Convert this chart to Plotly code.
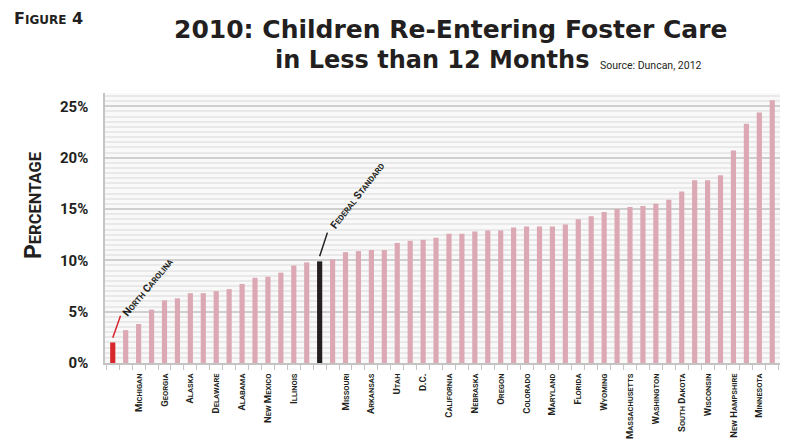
import plotly.graph_objects as go

# Re-entry rate (%) by jurisdiction, sorted ascending; the federal standard is included as its own bar
values = [2.0, 3.2, 3.8, 5.2, 6.1, 6.3, 6.8, 6.8, 7.0, 7.2,
          7.7, 8.3, 8.4, 8.8, 9.5, 9.8, 9.9, 10.1, 10.8, 10.9,
          11.0, 11.0, 11.7, 11.9, 12.0, 12.2, 12.6, 12.6, 12.8, 12.9,
          12.9, 13.2, 13.3, 13.3, 13.3, 13.5, 14.0, 14.3, 14.7, 15.0,
          15.2, 15.3, 15.5, 15.9, 16.7, 17.8, 17.8, 18.3, 20.7, 23.3,
          24.4, 25.6]

# Axis labels (every other bar is labelled)
labels = ["", "", "Michigan", "", "Georgia", "", "Alaska", "", "Delaware", "",
          "Alabama", "", "New Mexico", "", "Illinois", "", "", "", "Missouri", "",
          "Arkansas", "", "Utah", "", "D.C.", "", "California", "", "Nebraska", "",
          "Oregon", "", "Colorado", "", "Maryland", "", "Florida", "", "Wyoming", "",
          "Massachusetts", "", "Washington", "", "South Dakota", "", "Wisconsin", "",
          "New Hampshire", "", "Minnesota", ""]

nc_index = 0
nc_label = "North Carolina"
federal_index = 16
federal_label = "Federal Standard"

y_ticks = [0, 5, 10, 15, 20, 25]

assert len(values) == len(labels)

TITLE_FONT = "DejaVu Sans, Open Sans, Arial"
BODY = "Roboto, Open Sans, Arial"
PINK = "#dba8b3"
RED = "#d9262c"
BLACK = "#231f20"

# plot-area geometry (pixels)
L, R, T, B = 105, 13, 93, 76
W, H = 793, 439
PW, PH = W - L - R, H - T - B


def small_caps(text, big, small):
    out = []
    buf = ""
    for ch in text:
        if ch.islower():
            buf += ch.upper()
        else:
            if buf:
                out.append(f'<span style="font-size:{small}px">{buf}</span>')
                buf = ""
            out.append(ch)
    if buf:
        out.append(f'<span style="font-size:{small}px">{buf}</span>')
    return f'<span style="font-size:{big}px">' + "".join(out) + "</span>"


def px_x(px):
    return (px - L) / PW


def px_y(py):
    return (H - B - py) / PH


x = list(range(len(values)))
colors = []
for i in x:
    if i == nc_index:
        colors.append(RED)
    elif i == federal_index:
        colors.append(BLACK)
    else:
        colors.append(PINK)

fig = go.Figure(go.Bar(x=x, y=values, marker=dict(color=colors, line=dict(width=0)),
                       width=0.4, hoverinfo="x+y"))

tickvals = [i for i, l in enumerate(labels) if l]
ticktext = ["<b>" + small_caps(labels[i], 9.5, 7.5) + "</b>" for i in tickvals]

fig.update_layout(
    width=W, height=H,
    margin=dict(l=L, r=R, t=T, b=B, autoexpand=False),
    paper_bgcolor="white",
    plot_bgcolor="#f9f9f9",
    showlegend=False,
    font=dict(family=BODY, color="#231f20"),
    xaxis=dict(
        range=[-0.6, len(values) - 0.4],
        tickmode="array", tickvals=tickvals, ticktext=ticktext,
        tickangle=-90, ticks="", ticklabelstandoff=5,
        automargin=False,
        showgrid=False, zeroline=False,
        showline=True, linecolor="#c4c4c4", linewidth=1.5,
        tickfont=dict(family=BODY, size=9.5, color="#231f20"),
        minor=dict(ticks="outside", ticklen=5, tick0=0.5, dtick=1,
                   tickcolor="#c4c4c4", tickwidth=1, showgrid=False),
    ),
    yaxis=dict(
        range=[0, 26.3],
        tickmode="array", tickvals=y_ticks,
        ticktext=[f"<b>{v}%</b>" for v in y_ticks],
        tickfont=dict(family=BODY, size=15, color="#231f20"),
        ticks="", ticklabelstandoff=12,
        automargin=False,
        showgrid=True, gridcolor="#cfcfcf", gridwidth=2,
        zeroline=False,
        showline=True, linecolor="#c4c4c4", linewidth=1.5,
        minor=dict(dtick=0.5, showgrid=True, gridcolor="#e9e9e9", gridwidth=1.5),
    ),
)

# Leader lines from the highlighted bars to their labels
nc_val = values[nc_index]
fed_val = values[federal_index]
fig.add_shape(type="line", xref="x", yref="y",
              x0=nc_index, y0=nc_val + 0.45, x1=nc_index + 0.6, y1=nc_val + 2.6,
              line=dict(color=RED, width=1.5))
fig.add_shape(type="line", xref="x", yref="y",
              x0=federal_index, y0=fed_val + 0.5, x1=federal_index + 0.6, y1=fed_val + 2.8,
              line=dict(color=BLACK, width=1.5))

fig.add_annotation(x=nc_index + 0.3, y=nc_val + 2.0, xref="x", yref="y",
                   text="<b>" + small_caps(nc_label, 10.5, 8) + "</b>",
                   textangle=-50, showarrow=False, xanchor="left", yanchor="bottom",
                   font=dict(family=BODY, color="#231f20"))
fig.add_annotation(x=federal_index + 0.4, y=fed_val + 2.7, xref="x", yref="y",
                   text="<b>" + small_caps(federal_label, 10.5, 8) + "</b>",
                   textangle=-52, showarrow=False, xanchor="left", yanchor="bottom",
                   font=dict(family=BODY, color="#231f20"))

# Headings
fig.add_annotation(x=px_x(12), y=px_y(18), xref="paper", yref="paper",
                   text="<b>" + small_caps("Figure 4", 16, 12) + "</b>",
                   showarrow=False, xanchor="left", yanchor="middle",
                   font=dict(family=TITLE_FONT, color="#231f20"))
fig.add_annotation(x=px_x(450), y=px_y(29), xref="paper", yref="paper",
                   text="<b>2010: Children Re-Entering Foster Care</b>",
                   showarrow=False, xanchor="center", yanchor="middle",
                   font=dict(family=TITLE_FONT, size=25, color="#231f20"))
fig.add_annotation(x=px_x(591), y=px_y(60), xref="paper", yref="paper",
                   text="<b>in Less than 12 Months</b>",
                   showarrow=False, xanchor="right", yanchor="middle",
                   font=dict(family=TITLE_FONT, size=24, color="#231f20"))
fig.add_annotation(x=px_x(598), y=px_y(65), xref="paper", yref="paper",
                   text="Source: Duncan, 2012",
                   showarrow=False, xanchor="left", yanchor="middle",
                   font=dict(family=BODY, size=10.5, color="#231f20"))
fig.add_annotation(x=px_x(33), y=px_y(206), xref="paper", yref="paper",
                   text="<b>" + small_caps("Percentage", 23, 16.5) + "</b>",
                   textangle=-90, showarrow=False, xanchor="center", yanchor="middle",
                   font=dict(family=BODY, color="#231f20"))

fig.write_html("out.html")
